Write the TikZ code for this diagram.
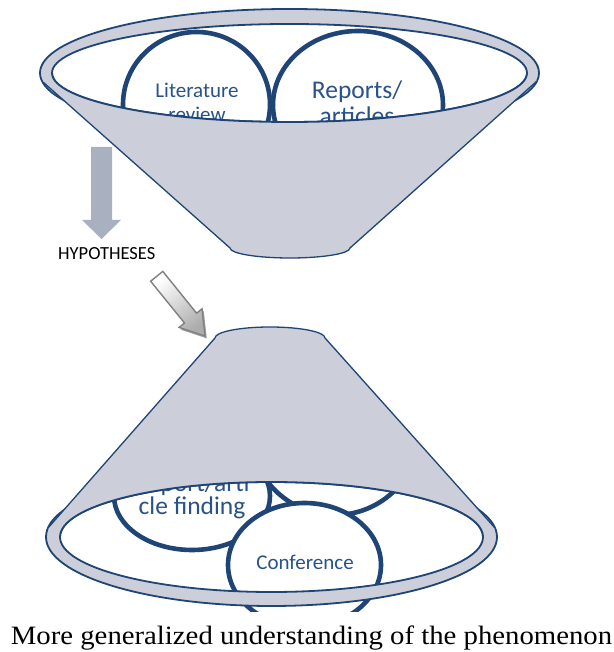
\documentclass[tikz,border=0pt]{standalone}
\usepackage{graphicx}
\usepackage{fontspec}
\setmainfont{Carlito}
\newfontfamily\capfont{Liberation Serif}
\definecolor{navy}{RGB}{31,68,118}
\definecolor{txtblue}{RGB}{40,82,138}
\definecolor{funnel}{RGB}{204,207,217}
\definecolor{arrowgray}{RGB}{169,176,192}
\definecolor{hollowline}{RGB}{128,128,128}
\begin{document}
\begin{tikzpicture}[x=1pt,y=1pt,
  ringline/.style={draw=navy, line width=1.8pt},
  coneline/.style={draw=navy, line width=1.3pt},
  bubble/.style={draw=navy, line width=4.6pt, fill=white},
  lbl/.style={text=txtblue, inner sep=0pt, anchor=base},
  smallfont/.style={font=\fontsize{21}{21}\selectfont},
  bigfont/.style={font=\fontsize{25.5}{25.5}\selectfont}]
\useasboundingbox (0,0) rectangle (613,652);

% ================= top funnel =================
\fill[white] (289.5,579) ellipse[x radius=237.5, y radius=49];
\begin{scope}
  \clip (289.5,579) ellipse[x radius=237.5, y radius=49];
  \draw[bubble] (196.5,547.5) ellipse[x radius=73.5, y radius=72.5];
  \draw[bubble] (358,547) ellipse[x radius=85, y radius=74];
  \node[lbl, smallfont] (lit1) at (197,554) {Literature};
  \node[lbl, smallfont] (lit2) at (197,530) {review};
  \node[lbl, bigfont] (rep1) at (357,553) {Reports/};
  \node[lbl, bigfont] (rep2) at (357,527) {articles};
\end{scope}
\fill[funnel, even odd rule] (289.5,579) ellipse[x radius=249.5, y radius=64]
  (289.5,579) ellipse[x radius=237.5, y radius=49];
\draw[ringline] (289.5,579) ellipse[x radius=249.5, y radius=64];
\draw[ringline] (289.5,579) ellipse[x radius=237.5, y radius=49];
% cone
\fill[funnel] (43,570) -- (230,404) arc[start angle=180, end angle=360, x radius=60, y radius=10]
  -- (537,571) -- (527,579) arc[start angle=0, end angle=-180, x radius=237.5, y radius=49] -- cycle;
\draw[coneline] (43,570) -- (230,404) arc[start angle=180, end angle=360, x radius=60, y radius=10] -- (537,571);
\draw[ringline] (527,579) arc[start angle=0, end angle=-180, x radius=237.5, y radius=49];

% ================= arrows =================
\fill[arrowgray] (91,505) -- (112,505) -- (112,432) -- (121,432) -- (101.5,413)
  -- (82,432) -- (91,432) -- cycle;
\node[anchor=base west, inner sep=0pt, font=\fontsize{18.5}{18.5}\selectfont] (hyp) at (58,392) {HYPOTHESES};

\fill[gray!75] ([shift={(1.8,-2.4)}]162.8,380.6) -- ([shift={(1.8,-2.4)}]196.6,338.8)
  -- ([shift={(1.8,-2.4)}]202.0,343.2) -- ([shift={(1.8,-2.4)}]205.0,316.0)
  -- ([shift={(1.8,-2.4)}]179.1,324.6) -- ([shift={(1.8,-2.4)}]184.5,329.0)
  -- ([shift={(1.8,-2.4)}]150.6,370.8) -- cycle;
\draw[hollowline, line width=1.4pt, line join=miter, top color=white, bottom color=gray!65, shading angle=39]
  (162.8,380.6) -- (196.6,338.8) -- (202.0,343.2) -- (205.0,316.0)
  -- (179.1,324.6) -- (184.5,329.0) -- (150.6,370.8) -- cycle;

% ================= bottom funnel =================
\fill[white] (271.5,115) ellipse[x radius=211.5, y radius=55];
\begin{scope}
  \clip (483,115) arc[start angle=0, end angle=180, x radius=211.5, y radius=55]
    -- (0,115) -- (0,40) -- (613,40) -- (613,115) -- cycle;
  \draw[bubble] (335,222) circle[radius=85];
  \draw[bubble] (192,156) ellipse[x radius=78, y radius=54];
  \node[lbl, bigfont] (rf1) at (192,160) {Report/arti};
  \node[lbl, bigfont] (rf2) at (192,137) {cle finding};
  \draw[bubble] (304.5,87) ellipse[x radius=76.5, y radius=62];
  \node[lbl, smallfont] (conf) at (305,82) {Conference};
\end{scope}
\fill[funnel, even odd rule] (271.5,115) ellipse[x radius=225.5, y radius=69]
  (271.5,115) ellipse[x radius=211.5, y radius=55];
\draw[ringline] (271.5,115) ellipse[x radius=225.5, y radius=69];
\draw[ringline] (271.5,115) ellipse[x radius=211.5, y radius=55];
% cone
\fill[funnel] (215,314) arc[start angle=180, end angle=0, x radius=55, y radius=11]
  -- (495,124) -- (483,115) arc[start angle=0, end angle=180, x radius=211.5, y radius=55]
  -- (48,124) -- cycle;
\draw[coneline] (48,124) -- (215,314) arc[start angle=180, end angle=0, x radius=55, y radius=11] -- (495,124);
\draw[ringline] (483,115) arc[start angle=0, end angle=180, x radius=211.5, y radius=55];

% caption
\node[anchor=base, inner sep=0pt, font=\capfont\fontsize{26.5}{26.5}\selectfont] (cap) at (311.5,8)
  {\scalebox{1.085}[1]{More generalized understanding of the phenomenon}};
\end{tikzpicture}
\end{document}
